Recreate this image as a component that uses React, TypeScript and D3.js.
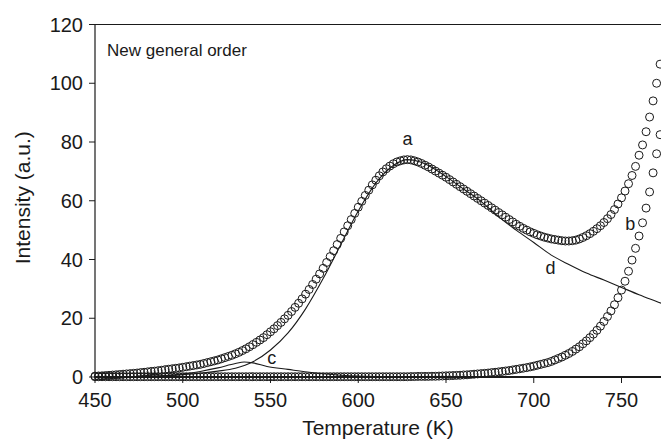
import React from "react";
import * as d3 from "d3";

const temps = [
  450, 452, 454, 456, 458, 460, 462, 464, 466, 468,
  470, 472, 474, 476, 478, 480, 482, 484, 486, 488,
  490, 492, 494, 496, 498, 500, 502, 504, 506, 508,
  510, 512, 514, 516, 518, 520, 522, 524, 526, 528,
  530, 532, 534, 536, 538, 540, 542, 544, 546, 548,
  550, 552, 554, 556, 558, 560, 562, 564, 566, 568,
  570, 572, 574, 576, 578, 580, 582, 584, 586, 588,
  590, 592, 594, 596, 598, 600, 602, 604, 606, 608,
  610, 612, 614, 616, 618, 620, 622, 624, 626, 628,
  630, 632, 634, 636, 638, 640, 642, 644, 646, 648,
  650, 652, 654, 656, 658, 660, 662, 664, 666, 668,
  670, 672, 674, 676, 678, 680, 682, 684, 686, 688,
  690, 692, 694, 696, 698, 700, 702, 704, 706, 708,
  710, 712, 714, 716, 718, 720, 722, 724, 726, 728,
  730, 732, 734, 736, 738, 740, 742, 744, 746, 748,
  750, 752, 754, 756, 758, 760, 762, 764, 766, 768,
  770, 772,
];

// curve a (open circles, total glow)
const seriesA = [
  0.3, 0.35, 0.4, 0.5, 0.55, 0.65, 0.75, 0.85, 0.95, 1.05,
  1.15, 1.25, 1.35, 1.5, 1.6, 1.75, 1.9, 2.0, 2.15, 2.3,
  2.5, 2.65, 2.8, 2.95, 3.1, 3.3, 3.5, 3.7, 3.9, 4.1,
  4.3, 4.6, 4.9, 5.2, 5.5, 5.8, 6.2, 6.6, 7.0, 7.4,
  7.9, 8.4, 9.0, 9.6, 10.3, 11.0, 11.8, 12.6, 13.4, 14.4,
  15.4, 16.4, 17.5, 18.6, 19.8, 21.0, 22.3, 23.7, 25.1, 26.6,
  28.2, 29.8, 31.5, 33.3, 35.1, 37.0, 39.0, 41.0, 43.0, 45.1,
  47.2, 49.4, 51.5, 53.6, 55.7, 57.8, 59.8, 61.8, 63.6, 65.4,
  67.0, 68.5, 69.8, 70.9, 71.8, 72.6, 73.2, 73.6, 73.9, 74.0,
  73.9, 73.6, 73.2, 72.7, 72.1, 71.5, 70.8, 70.1, 69.4, 68.7,
  68.0, 67.2, 66.4, 65.6, 64.8, 64.0, 63.2, 62.4, 61.6, 60.8,
  60.0, 59.2, 58.4, 57.6, 56.8, 56.0, 55.2, 54.4, 53.6, 52.8,
  52.0, 51.3, 50.6, 50.0, 49.4, 48.9, 48.4, 48.0, 47.6, 47.3,
  47.0, 46.8, 46.6, 46.4, 46.3, 46.3, 46.4, 46.6, 47.0, 47.5,
  48.1, 48.8, 49.6, 50.5, 51.5, 52.6, 53.9, 55.3, 57.0, 58.9,
  61.0, 63.3, 65.8, 68.6, 71.7, 75.5, 79.0, 83.5, 88.5, 94.0,
  100.0, 106.5,
];

// curve b (open circles, second peak)
const seriesB = [
  0.1, 0.1, 0.1, 0.1, 0.1, 0.1, 0.1, 0.1, 0.1, 0.1,
  0.1, 0.1, 0.1, 0.1, 0.1, 0.1, 0.1, 0.1, 0.1, 0.1,
  0.1, 0.1, 0.1, 0.1, 0.1, 0.1, 0.1, 0.1, 0.1, 0.1,
  0.1, 0.1, 0.1, 0.1, 0.1, 0.1, 0.1, 0.1, 0.1, 0.1,
  0.1, 0.1, 0.1, 0.1, 0.1, 0.1, 0.1, 0.1, 0.1, 0.1,
  0.1, 0.1, 0.1, 0.1, 0.1, 0.1, 0.1, 0.1, 0.1, 0.1,
  0.1, 0.1, 0.1, 0.1, 0.1, 0.1, 0.1, 0.1, 0.1, 0.1,
  0.1, 0.1, 0.1, 0.1, 0.1, 0.1, 0.1, 0.1, 0.1, 0.1,
  0.1, 0.1, 0.1, 0.1, 0.1, 0.1, 0.1, 0.1, 0.1, 0.1,
  0.15, 0.15, 0.2, 0.2, 0.2, 0.2, 0.25, 0.25, 0.3, 0.35,
  0.4, 0.45, 0.5, 0.55, 0.6, 0.7, 0.75, 0.85, 0.95, 1.05,
  1.15, 1.25, 1.35, 1.5, 1.6, 1.75, 1.9, 2.05, 2.2, 2.4,
  2.6, 2.8, 3.0, 3.2, 3.45, 3.7, 4.0, 4.3, 4.6, 4.9,
  5.3, 5.8, 6.3, 6.8, 7.4, 8.0, 8.7, 9.5, 10.3, 11.3,
  12.3, 13.4, 14.6, 15.9, 17.3, 18.9, 20.6, 22.5, 24.6, 27.0,
  29.6, 32.6, 36.0, 39.8, 43.8, 48.0, 52.5, 57.5, 63.0, 69.5,
  76.0, 82.5,
];

// fitted line c (small peak)
const lineCx = [460, 480, 490, 500, 510, 520, 530, 535, 540, 548, 560, 571, 580, 590, 600, 620, 650];
const lineCy = [0, 0.2, 0.5, 1.0, 1.9, 3.1, 4.6, 5.1, 4.8, 3.6, 2.6, 1.7, 1.1, 0.6, 0.3, 0.1, 0];

// fitted line d (main peak)
const lineDx = [470, 480, 490, 500, 510, 520, 530, 540, 550, 560, 570, 580, 590, 600, 610, 620, 628, 635, 640, 650, 660, 670, 680, 690, 700, 710, 720, 730, 740, 750, 760, 770, 780];
const lineDy = [0, 0.2, 0.4, 0.8, 1.3, 2.0, 3.0, 5.2, 9.2, 15.0, 23.2, 33.5, 45.0, 56.5, 66.0, 72.0, 74.0, 73.3, 72.0, 68.2, 64.0, 59.8, 54.5, 50.0, 45.8, 41.5, 38.3, 35.4, 33.0, 30.5, 28.0, 25.7, 23.4];

const xTicks = [450, 500, 550, 600, 650, 700, 750];
const yTicks = [0, 20, 40, 60, 80, 100, 120];

const curveLabels = ["a", "b", "c", "d"];
const curveLabelX = [628, 755, 550.7, 709.5];
const curveLabelY = [79, 50, 4.4, 35];

const W = 661;
const H = 442;
const FONT = "'Liberation Sans', Arial, Helvetica, sans-serif";
const INK = "#1a1a1a";

export default function App() {
  const x = d3.scaleLinear().domain([450, 800]).range([95, 95 + 350 * 1.755]);
  const y = d3.scaleLinear().domain([0, 120]).range([377, 24.5]);
  const left = x(450);
  const bottom = y(0);
  const top = y(120);

  const line = d3
    .line<[number, number]>()
    .x((d) => x(d[0]))
    .y((d) => y(d[1]))
    .curve(d3.curveMonotoneX);

  const cPts = lineCx.map((v, i) => [v, lineCy[i]] as [number, number]);
  const dPts = lineDx.map((v, i) => [v, lineDy[i]] as [number, number]);

  return (
    <svg
      width={W}
      height={H}
      style={{ position: "absolute", left: 0, top: 0, background: "#fff" }}
      fontFamily={FONT}
    >
      <rect x={0} y={0} width={W} height={H} fill="#fff" />
      {/* frame */}
      <line x1={left} x2={W} y1={top} y2={top} stroke={INK} strokeWidth={1} />
      <line x1={left} x2={left} y1={top} y2={bottom} stroke={INK} strokeWidth={1.2} />
      <line x1={left} x2={W} y1={bottom} y2={bottom} stroke={INK} strokeWidth={1.8} />

      {/* y ticks */}
      {yTicks.map((t) => (
        <g key={"y" + t}>
          <line x1={left - 6} x2={left} y1={y(t)} y2={y(t)} stroke={INK} strokeWidth={1} />
          <text x={left - 12} y={y(t)} dy="0.36em" textAnchor="end" fontSize={20} fill={INK}>
            {t}
          </text>
        </g>
      ))}
      {/* x ticks */}
      {xTicks.map((t) => (
        <g key={"x" + t}>
          <line x1={x(t)} x2={x(t)} y1={bottom} y2={bottom + 6} stroke={INK} strokeWidth={1} />
          <text x={x(t)} y={bottom + 30} textAnchor="middle" fontSize={20} fill={INK}>
            {t}
          </text>
        </g>
      ))}

      {/* axis titles */}
      <text x={(left + W) / 2} y={435} textAnchor="middle" fontSize={21} fill={INK}>
        Temperature (K)
      </text>
      <text
        transform={`translate(30, ${(top + bottom) / 2 - 3}) rotate(-90)`}
        textAnchor="middle"
        fontSize={21}
        fill={INK}
      >
        Intensity (a.u.)
      </text>

      <text x={left + 12} y={top + 31} fontSize={17} fill={INK}>
        New general order
      </text>

      {/* circles */}
      <g fill="none" stroke={INK} strokeWidth={1}>
        {temps.map((t, i) => (
          <circle key={"b" + t} cx={x(t)} cy={y(seriesB[i])} r={4} />
        ))}
        {temps.map((t, i) => (
          <circle key={"a" + t} cx={x(t)} cy={y(seriesA[i])} r={4} />
        ))}
      </g>

      {/* fitted lines */}
      <path d={line(cPts) || ""} fill="none" stroke={INK} strokeWidth={1.1} />
      <path d={line(dPts) || ""} fill="none" stroke={INK} strokeWidth={1.1} />

      {/* curve labels */}
      {curveLabels.map((l, i) => (
        <text key={l} x={x(curveLabelX[i])} y={y(curveLabelY[i])} textAnchor="middle" fontSize={18} fill={INK}>
          {l}
        </text>
      ))}
    </svg>
  );
}
